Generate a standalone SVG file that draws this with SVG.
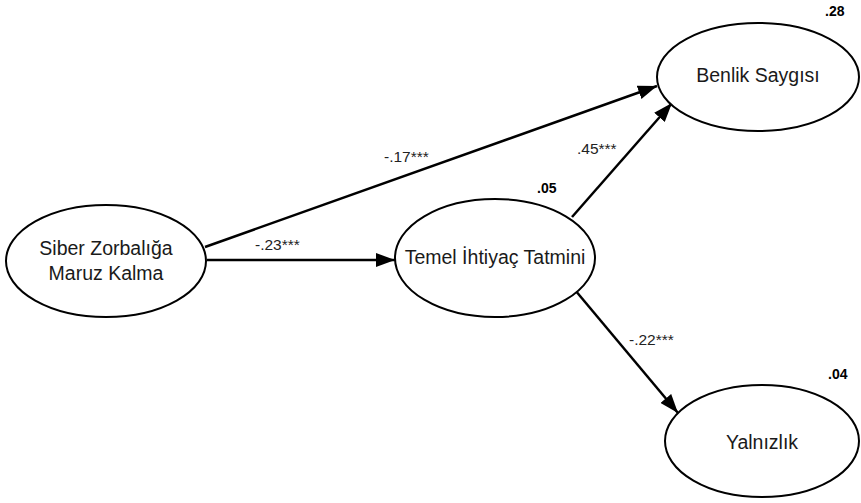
<svg xmlns="http://www.w3.org/2000/svg" width="861" height="503" viewBox="0 0 861 503">
<style>
.node ellipse{fill:#fff;stroke:#000;stroke-width:2}
.node text.nm{font-family:"Liberation Sans",Arial,sans-serif;font-size:19.5px;fill:#1a1a1a;text-anchor:middle}
.node text.r2{font-family:"Liberation Sans",Arial,sans-serif;font-size:14px;font-weight:bold;fill:#000;text-anchor:start}
.edge line{stroke:#000;stroke-width:2.5;marker-end:url(#ah)}
.lbl{font-family:"Liberation Sans",Arial,sans-serif;font-size:15.5px;fill:#222}
</style>
<defs>
<marker id="ah" markerUnits="userSpaceOnUse" markerWidth="20" markerHeight="14" refX="19" refY="7" orient="auto">
<path d="M0,0 L19,7 L0,14 z" fill="#000"/>
</marker>
</defs>
<rect width="861" height="503" fill="#fff"/>
<g id="connectors" class="edge">
<line x1="205" y1="247" x2="657" y2="86"/>
<line x1="207" y1="260" x2="395" y2="260"/>
<line x1="572" y1="217" x2="672" y2="103"/>
<line x1="575" y1="290" x2="678" y2="413"/>
</g>
<g id="edge-labels">
<text class="lbl" x="384" y="162">-.17***</text>
<text class="lbl" x="255" y="250">-.23***</text>
<text class="lbl" x="577" y="154">.45***</text>
<text class="lbl" x="629" y="345">-.22***</text>
</g>
<g id="node-siber" class="node">
<ellipse cx="106" cy="261" rx="100" ry="56"/>
<text class="nm" x="106" y="255">Siber Zorbalığa</text>
<text class="nm" x="106" y="280">Maruz Kalma</text>
</g>
<g id="node-temel" class="node">
<ellipse cx="495" cy="258" rx="100" ry="59"/>
<text class="nm" x="495" y="264">Temel İhtiyaç Tatmini</text>
<text class="r2" x="537" y="193">.05</text>
</g>
<g id="node-benlik" class="node">
<ellipse cx="758" cy="77" rx="101" ry="54"/>
<text class="nm" x="758" y="82">Benlik Saygısı</text>
<text class="r2" x="825" y="16">.28</text>
</g>
<g id="node-yalnizlik" class="node">
<ellipse cx="762" cy="441" rx="97" ry="56"/>
<text class="nm" x="762" y="449">Yalnızlık</text>
<text class="r2" x="828" y="379">.04</text>
</g>
</svg>
